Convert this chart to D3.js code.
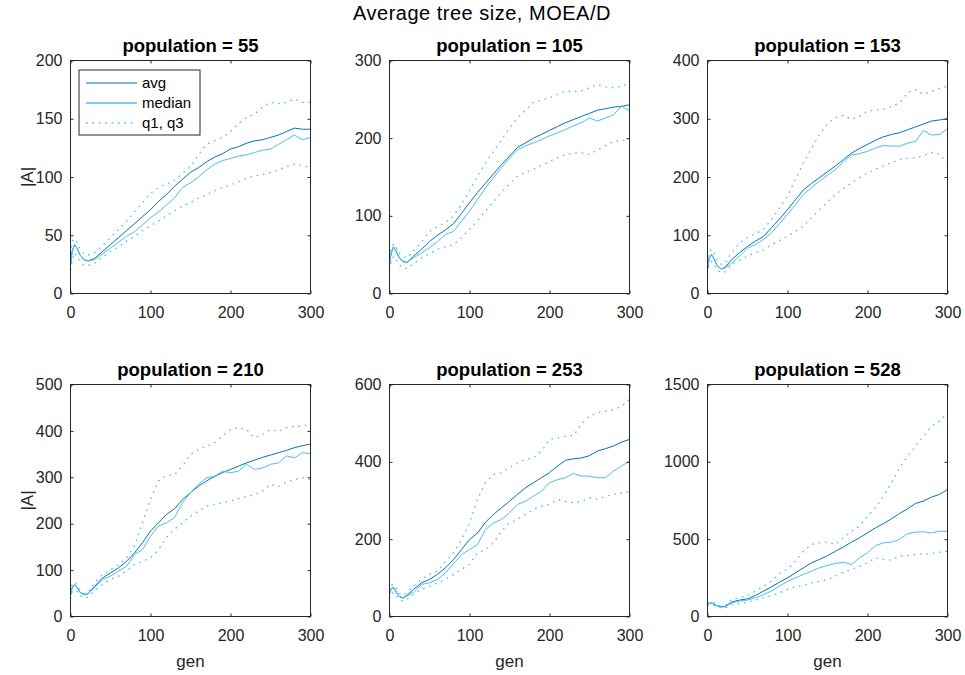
<!DOCTYPE html>
<html>
<head>
<meta charset="utf-8">
<script src="https://cdn.jsdelivr.net/npm/d3@7"></script>
<style>
  body { margin: 0; background: #fff; }
  svg { display: block; font-family: "Liberation Sans", Arial, Helvetica, sans-serif; }
</style>
</head>
<body>
<svg id="fig" width="965" height="675"></svg>
<script>
// Generations at which the statistics are sampled
const gens = [0, 2, 5, 8, 12, 17, 22, 30, 40, 50, 60, 70, 80, 90, 100, 110, 120, 130, 140, 150,
              160, 170, 180, 190, 200, 210, 220, 230, 240, 250, 260, 270, 280, 290, 300];

const populations = [55, 105, 153, 210, 253, 528];
const xTicks = [0, 100, 200, 300];

// population = 55
const avg55    = [24,36,42,39,33,29,28,30,36,42,48,54,60,66,72,79,85,92,98,104,108,113,117,120,124,126,129,131,132,134,136,139,142,141,141];
const median55 = [24,36,42,39,33,29,28,29,34,39,44,49,53,59,65,70,76,82,91,95,100,106,111,114,116,118,119,121,123,124,128,132,136,132,134];
const q1_55    = [20,28,35,32,27,24,24,26,31,36,40,45,49,54,58,62,67,71,75,78,82,85,88,91,93,96,99,101,102,104,106,109,111,110,108];
const q3_55    = [34,45,47,44,38,34,33,35,41,48,55,62,70,78,86,91,94,97,103,109,119,128,131,134,139,146,151,154,160,164,163,164,167,164,164];
const yTicks55 = [0, 50, 100, 150, 200];

// population = 105
const avg105    = [38,52,60,55,46,41,40,48,57,67,75,82,90,103,117,130,142,154,166,177,188,194,200,205,210,215,220,224,228,232,236,238,240,241,243];
const median105 = [38,52,60,55,46,41,40,46,52,59,67,76,80,93,106,121,136,149,162,174,185,190,194,198,203,207,211,216,220,226,222,226,230,241,235];
const q1_105    = [30,40,48,44,37,33,32,38,46,51,57,60,63,72,82,94,106,118,130,141,151,156,160,165,170,175,179,181,181,179,185,190,196,197,198];
const q3_105    = [46,58,64,60,52,47,46,55,66,80,86,91,100,115,132,151,168,183,198,213,226,236,246,249,252,256,261,260,261,265,269,266,265,267,271];
const yTicks105 = [0, 100, 200, 300];

// population = 153
const avg153    = [41,60,67,60,48,42,45,58,70,81,90,98,113,128,144,161,178,189,199,209,219,230,241,249,256,263,269,273,276,281,286,291,296,298,300];
const median153 = [41,60,67,60,48,42,44,52,64,78,84,93,104,120,136,153,170,182,193,203,213,226,238,240,244,250,254,253,253,258,261,280,272,273,283];
const q1_153    = [33,48,55,50,40,36,37,50,57,64,70,75,84,91,98,107,116,130,144,157,170,180,190,199,207,213,219,225,230,232,233,237,242,239,224];
const q3_153    = [52,70,76,70,58,50,52,70,87,96,103,110,127,147,167,196,224,249,273,292,302,306,299,304,313,315,316,321,327,345,350,342,347,352,356];
const yTicks153 = [0, 100, 200, 300, 400];

// population = 210
const avg210    = [45,62,69,63,52,47,49,65,83,94,105,119,137,159,184,202,220,232,252,267,281,292,302,310,317,324,331,337,343,348,353,358,364,368,372];
const median210 = [45,62,69,63,52,47,49,62,80,87,98,108,134,144,173,195,202,213,245,267,285,299,302,313,310,313,328,317,320,328,331,346,342,353,351];
const q1_210    = [38,52,58,54,45,40,42,55,69,80,87,98,112,119,126,144,170,188,202,216,227,238,241,245,249,254,259,262,270,285,280,290,295,299,295];
const q3_210    = [52,70,74,68,56,50,52,73,90,101,112,126,152,202,252,292,304,306,324,349,360,367,374,389,403,407,403,385,392,403,399,407,410,410,416];
const yTicks210 = [0, 100, 200, 300, 400, 500];

// population = 253
const avg253    = [57,72,75,65,52,48,55,70,87,96,109,126,147,173,199,216,244,264,281,298,316,333,346,359,372,389,404,408,410,416,428,434,441,451,458];
const median253 = [57,72,75,65,52,48,53,63,83,87,96,113,136,160,173,186,225,242,251,268,290,298,311,324,346,354,359,370,363,363,359,359,376,389,402];
const q1_253    = [45,58,62,55,45,40,45,57,70,78,87,96,109,122,135,165,173,191,221,242,251,264,277,285,290,303,298,294,298,307,303,311,316,320,322];
const q3_253    = [65,80,83,75,60,55,62,78,96,109,117,143,165,199,242,303,346,367,372,385,397,406,410,428,458,462,466,468,497,518,527,531,535,544,561];
const yTicks253 = [0, 200, 400, 600];

// population = 528
const avg528    = [78,85,88,80,68,63,65,93,106,114,136,164,192,222,250,282,315,347,369,394,422,450,481,509,541,573,601,632,666,696,731,746,772,789,821];
const median528 = [78,85,88,80,68,62,62,88,100,106,121,142,164,196,228,250,272,293,315,330,343,351,336,379,412,459,476,481,498,535,545,548,540,552,550];
const q1_528    = [70,76,80,72,62,56,56,78,84,93,106,121,136,153,175,192,200,218,228,239,261,287,304,325,347,379,369,364,390,394,401,407,407,416,422];
const q3_528    = [85,92,95,88,75,68,70,110,121,136,164,196,228,278,304,358,422,466,476,481,466,509,552,584,649,703,778,864,961,1037,1101,1166,1231,1263,1317];
const yTicks528 = [0, 500, 1000, 1500];

const panels = [
  { pop: 55,  avg: avg55,  median: median55,  q1: q1_55,  q3: q3_55,  yTicks: yTicks55 },
  { pop: 105, avg: avg105, median: median105, q1: q1_105, q3: q3_105, yTicks: yTicks105 },
  { pop: 153, avg: avg153, median: median153, q1: q1_153, q3: q3_153, yTicks: yTicks153 },
  { pop: 210, avg: avg210, median: median210, q1: q1_210, q3: q3_210, yTicks: yTicks210 },
  { pop: 253, avg: avg253, median: median253, q1: q1_253, q3: q3_253, yTicks: yTicks253 },
  { pop: 528, avg: avg528, median: median528, q1: q1_528, q3: q3_528, yTicks: yTicks528 }
];

const AXIS = "#262626";
const C_AVG = "#0072BD";
const C_MED = "#4DBEEE";
const DOT = "1.6,4.8";
const TICK_FONT = 16;

const svg = d3.select("#fig");

svg.append("text")
  .attr("x", 482).attr("y", 20)
  .attr("text-anchor", "middle")
  .attr("font-size", 20)
  .attr("letter-spacing", 0.5)
  .attr("fill", "#000")
  .text("Average tree size, MOEA/D");

const lefts = [70.5, 389.5, 707.5];
const rows = [{ top: 60.5, bottom: 293.5 }, { top: 384.5, bottom: 616.5 }];
const W = 240;

panels.forEach((p, i) => {
  const col = i % 3, row = Math.floor(i / 3);
  const x0 = lefts[col], y0 = rows[row].top, h = rows[row].bottom - rows[row].top;
  const g = svg.append("g").attr("transform", `translate(${x0},${y0})`);

  const x = d3.scaleLinear().domain([0, 300]).range([0, W]);
  const y = d3.scaleLinear().domain([0, d3.max(p.yTicks)]).range([h, 0]);

  const style = sel => {
    sel.select(".domain").remove();
    sel.selectAll("line").attr("stroke", AXIS);
    sel.selectAll("text").attr("fill", AXIS).attr("font-size", TICK_FONT)
      .attr("font-family", '"Liberation Sans", Arial, sans-serif');
  };

  // data lines
  const line = d3.line().x((d, k) => x(gens[k])).y(d => y(d));
  const plot = g.append("g");
  plot.append("path").datum(p.avg).attr("d", line)
    .attr("fill", "none").attr("stroke", C_AVG).attr("stroke-width", 1);
  plot.append("path").datum(p.median).attr("d", line)
    .attr("fill", "none").attr("stroke", C_MED).attr("stroke-width", 1);
  [p.q1, p.q3].forEach(s => {
    plot.append("path").datum(s).attr("d", line)
      .attr("fill", "none").attr("stroke", C_MED).attr("stroke-width", 1.3)
      .attr("stroke-dasharray", DOT);
  });

  // axes with inward ticks on all four sides
  const fmt = d3.format("d");
  g.append("g").attr("transform", `translate(0,${h})`)
    .call(d3.axisBottom(x).tickValues(xTicks).tickFormat(fmt).tickSizeInner(-3).tickSizeOuter(0).tickPadding(13))
    .call(style);
  g.append("g")
    .call(d3.axisLeft(y).tickValues(p.yTicks).tickFormat(fmt).tickSizeInner(-3).tickSizeOuter(0).tickPadding(8))
    .call(style);
  g.append("g")
    .call(d3.axisTop(x).tickValues(xTicks).tickSizeInner(-3).tickSizeOuter(0).tickFormat(""))
    .call(style);
  g.append("g").attr("transform", `translate(${W},0)`)
    .call(d3.axisRight(y).tickValues(p.yTicks).tickSizeInner(-3).tickSizeOuter(0).tickFormat(""))
    .call(style);
  g.append("rect").attr("width", W).attr("height", h)
    .attr("fill", "none").attr("stroke", AXIS).attr("stroke-width", 1);

  // panel title
  g.append("text")
    .attr("x", W / 2).attr("y", -9)
    .attr("text-anchor", "middle")
    .attr("font-size", 18.5).attr("font-weight", "bold").attr("fill", "#000")
    .text(`population = ${p.pop}`);

  if (col === 0) {
    g.append("text")
      .attr("transform", `translate(-38,${h / 2}) rotate(-90)`)
      .attr("text-anchor", "middle")
      .attr("font-size", 17).attr("fill", AXIS)
      .text("|A|");
  }
  if (row === 1) {
    g.append("text")
      .attr("x", W / 2).attr("y", h + 50)
      .attr("text-anchor", "middle")
      .attr("font-size", 17).attr("fill", AXIS)
      .text("gen");
  }

  // legend in first panel
  if (i === 0) {
    const lg = g.append("g").attr("transform", "translate(8.5,9.5)");
    lg.append("rect").attr("width", 121).attr("height", 65)
      .attr("fill", "#fff").attr("stroke", AXIS).attr("stroke-width", 1);
    const items = [
      { label: "avg", color: C_AVG, dash: null, w: 1 },
      { label: "median", color: C_MED, dash: null, w: 1.5 },
      { label: "q1, q3", color: C_MED, dash: DOT, w: 1.3 }
    ];
    items.forEach((it, k) => {
      const yy = 13 + k * 20;
      lg.append("line").attr("x1", 7).attr("x2", 58).attr("y1", yy).attr("y2", yy)
        .attr("stroke", it.color).attr("stroke-width", it.w)
        .attr("stroke-dasharray", it.dash);
      lg.append("text").attr("x", 63).attr("y", yy + 5)
        .attr("font-size", 15).attr("fill", "#000").text(it.label);
    });
  }
});
</script>
</body>
</html>
